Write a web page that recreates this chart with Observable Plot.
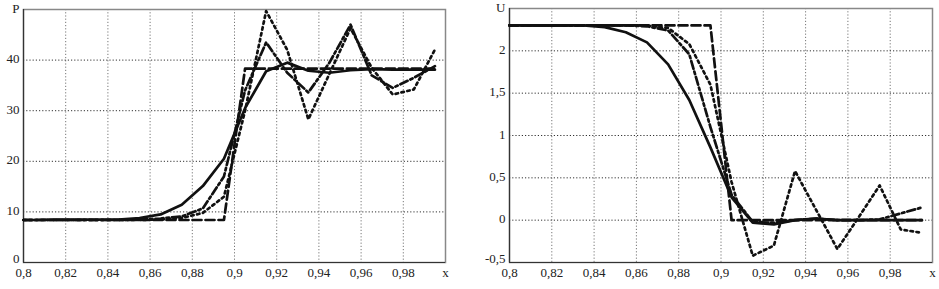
<!DOCTYPE html>
<html>
<head>
<meta charset="utf-8">
<script src="https://cdn.jsdelivr.net/npm/d3@7"></script>
<script src="https://cdn.jsdelivr.net/npm/@observablehq/plot@0.6"></script>
<style>
  html, body { margin: 0; padding: 0; background: #fff; }
  #wrap { display: flex; flex-direction: row; width: 939px; height: 289px; }
  #wrap svg { display: block; }
</style>
</head>
<body>
<div id="wrap"><div id="left"></div><div id="right"></div></div>
<script>
// ---- data ----
const xs = [0.8, 0.805, 0.815, 0.825, 0.835, 0.845, 0.855, 0.865, 0.875, 0.885, 0.895,
            0.905, 0.915, 0.925, 0.935, 0.945, 0.955, 0.965, 0.975, 0.985, 0.995];

const pSolid   = [8.4, 8.4, 8.5, 8.5, 8.5, 8.5, 8.8, 9.5, 11.4, 15.1, 20.5, 30.5, 37.8, 39.5, 37.9, 37.5, 38.0, 38.2, 38.1, 38.1, 38.1];
const pDashed  = [8.4, 8.4, 8.4, 8.4, 8.4, 8.4, 8.4, 8.4, 8.4, 8.4, 8.4, 38.3, 38.3, 38.3, 38.3, 38.3, 38.3, 38.3, 38.3, 38.3, 38.3];
const pDashDot = [8.4, 8.4, 8.4, 8.4, 8.4, 8.4, 8.5, 8.7, 9.1, 10.7, 17.0, 34.0, 43.5, 37.5, 33.6, 39.5, 47.0, 37.0, 34.5, 36.5, 38.8];
const pDotted  = [8.4, 8.4, 8.4, 8.4, 8.4, 8.4, 8.4, 8.5, 8.8, 9.8, 13.0, 30.0, 49.7, 42.0, 28.3, 37.3, 46.3, 38.5, 33.2, 34.2, 42.1];

const uSolid   = [2.3, 2.3, 2.3, 2.3, 2.3, 2.28, 2.22, 2.1, 1.84, 1.42, 0.86, 0.27, -0.03, -0.05, 0.0, 0.02, 0.0, 0.0, 0.0, 0.0, 0.0];
const uDashed  = [2.3, 2.3, 2.3, 2.3, 2.3, 2.3, 2.3, 2.3, 2.3, 2.3, 2.3, 0, 0, 0, 0, 0, 0, 0, 0, 0, 0];
const uDashDot = [2.3, 2.3, 2.3, 2.3, 2.3, 2.3, 2.3, 2.29, 2.24, 1.96, 1.1, 0.3, -0.02, -0.03, 0.0, 0.02, 0.0, 0.0, 0.01, 0.08, 0.15];
const uDotted  = [2.3, 2.3, 2.3, 2.3, 2.3, 2.3, 2.3, 2.3, 2.27, 2.08, 1.6, 0.45, -0.42, -0.3, 0.58, 0.12, -0.34, 0.03, 0.41, -0.11, -0.15];

const xTicks = [0.8, 0.82, 0.84, 0.86, 0.88, 0.9, 0.92, 0.94, 0.96, 0.98, 1.0];
const xTickLabels = ["0,8", "0,82", "0,84", "0,86", "0,88", "0,9", "0,92", "0,94", "0,96", "0,98", "x"];
const pTicks = [0, 10, 20, 30, 40, 50];
const pTickLabels = ["0", "10", "20", "30", "40", "P"];
const uTicks = [-0.5, 0, 0.5, 1, 1.5, 2, 2.5];
const uTickLabels = ["-0,5", "0", "0,5", "1", "1,5", "2", "U"];

// pick the first installed serif font
function pickFont(cands) {
  const c = document.createElement("canvas").getContext("2d");
  const probe = "0,82 1,5 PUx";
  for (const f of cands) {
    for (const base of ["monospace", "sans-serif"]) {
      c.font = "40px " + base;
      const w0 = c.measureText(probe).width;
      c.font = "40px '" + f + "', " + base;
      if (Math.abs(c.measureText(probe).width - w0) > 0.5) return "'" + f + "'";
    }
  }
  return "serif";
}
const serifFont = pickFont(["Liberation Serif", "Tinos", "Times New Roman", "DejaVu Serif", "Noto Serif"]);

// ---- styles ----
const styles = [
  {key: "dashed",  dash: "9,4"},
  {key: "dotted",  dash: "2.5,3.5"},
  {key: "dashdot", dash: "8,3,2.5,3"},
  {key: "solid",   dash: null}
];

function rows(series) {
  return xs.map((x, i) => ({x, y: series[i]}));
}

function panel({width, margins, yDomain, yTicks, yLabels, series}) {
  const fx = d => xTickLabels[xTicks.findIndex(t => Math.abs(t - d) < 1e-9)];
  const fy = d => yLabels[yTicks.findIndex(t => Math.abs(t - d) < 1e-9)];
  const yCommon = {tickSize: 0, tickPadding: 4, tickFormat: fy, label: null, fill: "#222", fontSize: 13};
  const marks = [
    Plot.gridX(xTicks, {stroke: "#777", strokeOpacity: 1, strokeWidth: 1, strokeDasharray: "1.2,2"}),
    Plot.gridY(yTicks, {stroke: "#333", strokeOpacity: 1, strokeWidth: 1, strokeDasharray: "1.2,2"}),
    Plot.frame({stroke: "#888", strokeWidth: 1.5}),
    Plot.axisX(xTicks, {tickSize: 0, tickPadding: 5.5, tickFormat: fx, label: null, fill: "#222", fontSize: 13}),
    Plot.axisY(yTicks.slice(1), {...yCommon, dy: -1}),
    Plot.axisY(yTicks.slice(0, 1), {...yCommon, dy: -3.5}),
    Plot.ruleY([yDomain[0]], {stroke: "#333", strokeWidth: 1.2}),
    Plot.ruleX([xTicks[0]], {stroke: "#333", strokeWidth: 1.2})
  ];
  for (const s of styles) {
    marks.push(Plot.line(rows(series[s.key]), {
      x: "x", y: "y", stroke: "#111", strokeWidth: 2.7,
      strokeDasharray: s.dash || undefined, strokeLinejoin: "round"
    }));
  }
  const svg = Plot.plot({
    width, height: 289,
    marginLeft: margins[0], marginRight: margins[1], marginTop: margins[2], marginBottom: margins[3],
    x: {domain: [0.8, 1.0]},
    y: {domain: yDomain},
    style: {background: "#fff", overflow: "visible"},
    marks
  });
  svg.setAttribute("font-family", serifFont);
  svg.style.fontFamily = serifFont;
  svg.querySelectorAll("text").forEach(t => {
    t.setAttribute("font-family", serifFont);
    t.style.fontFamily = serifFont;
  });
  return svg;
}

document.getElementById("left").appendChild(panel({
  width: 470, margins: [23, 25, 9, 27],
  yDomain: [0, 50], yTicks: pTicks, yLabels: pTickLabels,
  series: {solid: pSolid, dashed: pDashed, dashdot: pDashDot, dotted: pDotted}
}));
document.getElementById("right").appendChild(panel({
  width: 469, margins: [39, 7, 8, 27],
  yDomain: [-0.5, 2.5], yTicks: uTicks, yLabels: uTickLabels,
  series: {solid: uSolid, dashed: uDashed, dashdot: uDashDot, dotted: uDotted}
}));
</script>
</body>
</html>
